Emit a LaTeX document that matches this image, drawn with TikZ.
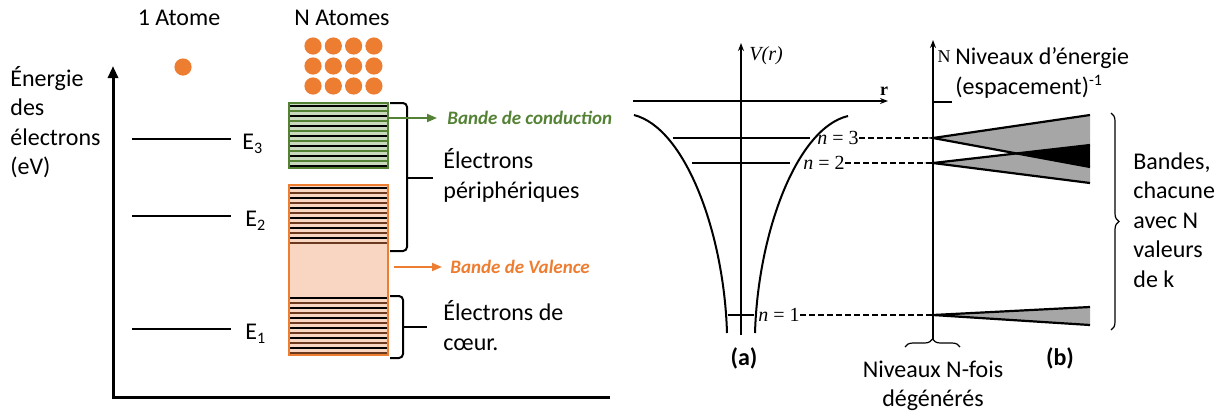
\documentclass[tikz,border=0pt]{standalone}
\usepackage{fontspec}
\setmainfont{Carlito}
\newfontfamily\scanfont{Liberation Serif}
\usepackage{tikz}
\usetikzlibrary{arrows.meta,positioning,decorations.pathreplacing}
\definecolor{atomorange}{HTML}{ED7D31}
\definecolor{condgreen}{HTML}{548235}
\definecolor{condfill}{HTML}{C9D9BC}
\definecolor{valfill}{HTML}{F8D6C2}
\definecolor{stripebrown}{HTML}{6B3A1E}
\tikzset{
  lbl/.style={inner sep=0pt,align=left,font=\fontsize{12}{14.75}\selectfont},
  scan/.style={inner sep=0pt,font=\scanfont\fontsize{10}{12}\selectfont},
  atom/.style={circle,fill=atomorange,inner sep=0pt,minimum size=8.6pt},
  axis/.style={line width=1.5pt,-{Triangle[length=6pt,width=5pt]}},
  level/.style={line width=.6pt,draw=black},
  condband/.style={draw=condgreen,fill=condfill,line width=.8pt,inner sep=0pt,
    minimum width=49.5pt,minimum height=32.5pt},
  valband/.style={draw=atomorange,fill=valfill,line width=.8pt,inner sep=0pt,
    minimum width=49.5pt,minimum height=85pt},
  stripe/.style={line width=.7pt},
  bracket/.style={line width=1pt,rounded corners=2pt},
  condarrow/.style={-{Triangle[length=5pt,width=4pt]},draw=condgreen,line width=.9pt},
  valarrow/.style={-{Triangle[length=5pt,width=4pt]},draw=atomorange,line width=.9pt},
  condlbl/.style={inner sep=0pt,text=condgreen,font=\fontsize{9.5}{11}\selectfont\bfseries\itshape},
  vallbl/.style={inner sep=0pt,text=atomorange,font=\fontsize{9.5}{11}\selectfont\bfseries\itshape},
  thinaxis/.style={line width=.6pt,-{Stealth[length=4pt,width=3pt]}},
  thinline/.style={line width=.6pt},
  well/.style={line width=1pt},
  levdash/.style={line width=.6pt,dash pattern=on 3pt off 1.5pt},
  wedge/.style={fill=black!35},
  wedgeedge/.style={line width=1.1pt},
  thinbrace/.style={line width=.6pt,decorate,decoration={brace,amplitude=4pt}}
}

\begin{document}
\begin{tikzpicture}[x=0.5pt,y=-0.5pt]
\useasboundingbox (0,0) rectangle (1220,414);

% --- left panel: one atom vs N atoms
\node[lbl] (one) at (179,18) {1 Atome};
\node[lbl] (many) at (342,18) {N Atomes};
\node[atom] (single) at (183,67) {};
\foreach \i in {0,...,3}
  \foreach \j in {0,...,2}
    \node[atom] (at\i\j) at (313+20.3*\i,46+20*\j) {};

\coordinate (origin) at (113,397);
\coordinate (ytop) at (113,66);
\coordinate (xend) at (610,397);
\draw[axis] (xend) -- (origin) -- (ytop);
\node[lbl,anchor=west] (energy) at (10,122) {Énergie\\des\\électrons\\(eV)};

% atomic levels
\foreach \y/\k/\lx in {139/3/242,216/2/245,329/1/245}{
  \coordinate (lev\k) at (132,\y);
  \draw[level] (lev\k) -- ++(99,0);
  \node[lbl,anchor=west] (E\k) at (\lx,\y+5) {E\textsubscript{\k}};
}

% bands
\node[condband] (cond) at (338.5,135.5) {};
\foreach \y in {106,116,...,166}
  \draw[stripe,black] (290,\y) -- (387,\y);
\foreach \y in {111,121,...,161}
  \draw[stripe,condgreen] (290,\y) -- (387,\y);

\node[valband] (val) at (338.5,270) {};
\foreach \y in {188,198,...,238,298,308,...,348}
  \draw[stripe,black] (290,\y) -- (387,\y);
\foreach \y in {193,203,...,243,303,313,...,353}
  \draw[stripe,stripebrown] (290,\y) -- (387,\y);

% brackets
\draw[bracket] (390,103) -- (407,103) -- (407,251) -- (390,251);
\draw[line width=1pt] (407,178) -- (433,178);
\draw[bracket] (390,296) -- (403,296) -- (403,358) -- (390,358);
\draw[line width=1pt] (403,327) -- (427,327);

\node[lbl,anchor=west] (periph) at (443,175.5) {Électrons\\périphériques};
\node[lbl,anchor=west] (core) at (443,325.5) {Électrons de\\cœur.};

\node[condlbl,anchor=west] (condtxt) at (447,118) {Bande de conduction};
\draw[condarrow,shorten >=5pt] (cond.east |- condtxt.west) -- (condtxt.west);
\node[vallbl,anchor=west] (valtxt) at (450,267) {Bande de Valence};
\draw[valarrow,shorten >=4pt,shorten <=2.5pt] (val.east |- valtxt.west) -- (valtxt.west);

% --- (a) potential well
\coordinate (vbot) at (741,335);
\coordinate (vtop) at (741,43);
\draw[thinaxis] (vbot) -- (vtop);
\node[scan,anchor=west] (vlbl) at (749,56) {\itshape V(r)};
\coordinate (rleft) at (633,101);
\coordinate (rright) at (888,101);
\draw[thinaxis] (rleft) -- (rright);
\node[scan,font=\scanfont\fontsize{9}{10}\selectfont\bfseries] (rlbl) at (884,91) {r};

\draw[well] (634,115) .. controls (685,128) and (724,232) .. (727,333);
\draw[well] (848,116) .. controls (797,128) and (758,232) .. (755,333);

\draw[thinline] (673,138) -- (810,138);
\draw[thinline] (692,163) -- (790,163);
\draw[thinline] (728,315) -- (754,315);

\node[scan] (n3) at (838,138) {\itshape n\upshape{} = 3};
\node[scan] (n2) at (824,163) {\itshape n\upshape{} = 2};
\node[scan] (n1) at (779,315) {\itshape n\upshape{} = 1};

% --- (b) bands vs N
\coordinate (nbot) at (933,340);
\coordinate (ntop) at (933,40);
\draw[thinaxis] (nbot) -- (ntop);
\node[scan,font=\scanfont\fontsize{9}{10}\selectfont] (Nlbl) at (944,57) {N};
\draw[thinline] (933,102) -- (952,102);
\node[lbl,anchor=west] (levels) at (955,73) {Niveaux d’énergie\\(espacement)\textsuperscript{-1}};

\coordinate (b3) at (933,138);
\coordinate (b2) at (933,163);
\coordinate (b1) at (933,315);
\draw[levdash] (n3.east) -- (b3);
\draw[levdash] (n2.east) -- (b2);
\draw[levdash] (n1.east) -- (b1);

\fill[wedge] (b3) -- (1090,115) -- (1090,167) -- cycle;
\fill[wedge] (b2) -- (1090,145) -- (1090,183) -- cycle;
\begin{scope}
  \clip (b3) -- (1090,115) -- (1090,167) -- cycle;
  \fill[black] (b2) -- (1090,145) -- (1090,183) -- cycle;
\end{scope}
\fill[wedge] (b1) -- (1090,307) -- (1090,325) -- cycle;
\draw[wedgeedge] (1090,115) -- (b3) -- (1090,167);
\draw[wedgeedge] (1090,145) -- (b2) -- (1090,183);
\draw[wedgeedge] (1090,307) -- (b1) -- (1090,325);

\draw[thinbrace] (1111,113) -- (1111,330);
\node[lbl,anchor=west] (bands) at (1133,220) {Bandes,\\chacune\\avec N\\valeurs\\de k};

\draw[thinbrace] (905,347) -- (960,347);
\node[lbl,align=center] (degen) at (933,386) {Niveaux N-fois\\dégénérés};

\node[lbl,font=\fontsize{12}{14}\selectfont\bfseries] (capa) at (744,358) {(a)};
\node[lbl,font=\fontsize{12}{14}\selectfont\bfseries] (capb) at (1060,358) {(b)};
\end{tikzpicture}
\end{document}
